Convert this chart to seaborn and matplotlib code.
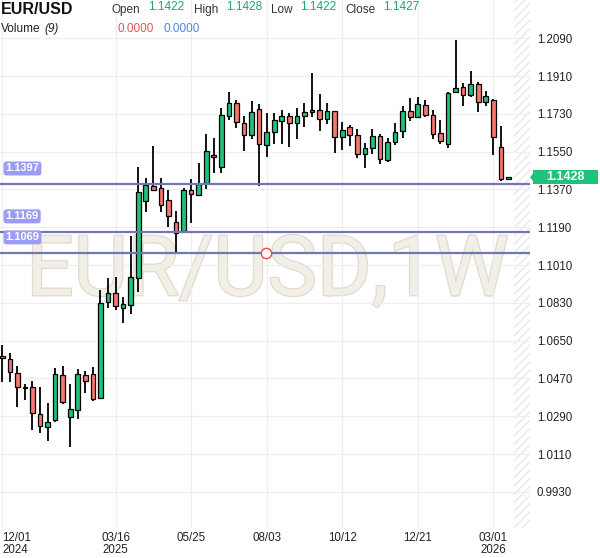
import numpy as np
import pandas as pd
import matplotlib
matplotlib.use("Agg")
import matplotlib.pyplot as plt
import matplotlib.transforms as mtrans
import matplotlib.patheffects as pe
from matplotlib.patches import Rectangle, Polygon
import seaborn as sns

# ---------------- data ----------------
start_date = "2024-12-01"
n_weeks = 68
opens = [1.0576, 1.0561, 1.0495, 1.0424, 1.0428, 1.0300, 1.0238, 1.0272, 1.0485, 1.0285,
         1.0320, 1.0487, 1.0490, 1.0379, 1.0833, 1.0876, 1.0807, 1.0819, 1.0947, 1.1314,
         1.1385, 1.1376, 1.1318, 1.1217, 1.1174, 1.1366, 1.1342, 1.1400, 1.1536, 1.1479,
         1.1721, 1.1780, 1.1685, 1.1628, 1.1752, 1.1580, 1.1642, 1.1694, 1.1719, 1.1685,
         1.1718, 1.1738, 1.1747, 1.1704, 1.1742, 1.1618, 1.1665, 1.1628, 1.1538, 1.1566,
         1.1624, 1.1512, 1.1595, 1.1647, 1.1742, 1.1714, 1.1771, 1.1723, 1.1638, 1.1584,
         1.1833, 1.1857, 1.1821, 1.1871, 1.1785, 1.1795, 1.1571, 1.1422]
highs = [1.0630, 1.0593, 1.0531, 1.0442, 1.0458, 1.0431, 1.0352, 1.0519, 1.0531, 1.0442,
         1.0514, 1.0506, 1.0526, 1.0891, 1.0947, 1.0955, 1.0857, 1.1149, 1.1476, 1.1423,
         1.1576, 1.1423, 1.1368, 1.1265, 1.1376, 1.1419, 1.1495, 1.1633, 1.1614, 1.1756,
         1.1833, 1.1796, 1.1720, 1.1789, 1.1776, 1.1733, 1.1733, 1.1749, 1.1733, 1.1757,
         1.1780, 1.1923, 1.1824, 1.1780, 1.1744, 1.1691, 1.1675, 1.1658, 1.1590, 1.1657,
         1.1633, 1.1614, 1.1685, 1.1766, 1.1804, 1.1810, 1.1796, 1.1748, 1.1699, 1.1836,
         1.2081, 1.1877, 1.1934, 1.1881, 1.1838, 1.1800, 1.1670, 1.1428]
lows = [1.0455, 1.0452, 1.0336, 1.0368, 1.0225, 1.0212, 1.0174, 1.0261, 1.0347, 1.0142,
        1.0276, 1.0402, 1.0363, 1.0376, 1.0804, 1.0796, 1.0733, 1.0776, 1.0880, 1.1264,
        1.1363, 1.1264, 1.1193, 1.1068, 1.1172, 1.1209, 1.1341, 1.1371, 1.1447, 1.1450,
        1.1701, 1.1661, 1.1555, 1.1610, 1.1387, 1.1526, 1.1585, 1.1584, 1.1574, 1.1609,
        1.1666, 1.1717, 1.1646, 1.1683, 1.1542, 1.1558, 1.1576, 1.1521, 1.1471, 1.1538,
        1.1489, 1.1502, 1.1583, 1.1614, 1.1696, 1.1709, 1.1715, 1.1612, 1.1584, 1.1569,
        1.1828, 1.1766, 1.1808, 1.1741, 1.1765, 1.1533, 1.1410, 1.1422]
closes = [1.0566, 1.0500, 1.0428, 1.0423, 1.0304, 1.0244, 1.0264, 1.0490, 1.0357, 1.0323,
          1.0490, 1.0458, 1.0371, 1.0828, 1.0876, 1.0815, 1.0823, 1.0952, 1.1360, 1.1393,
          1.1366, 1.1295, 1.1245, 1.1161, 1.1366, 1.1347, 1.1395, 1.1552, 1.1523, 1.1723,
          1.1780, 1.1689, 1.1627, 1.1741, 1.1585, 1.1642, 1.1700, 1.1719, 1.1685, 1.1719,
          1.1738, 1.1747, 1.1704, 1.1742, 1.1618, 1.1652, 1.1627, 1.1538, 1.1566, 1.1623,
          1.1514, 1.1595, 1.1642, 1.1742, 1.1713, 1.1776, 1.1723, 1.1636, 1.1599, 1.1829,
          1.1852, 1.1821, 1.1871, 1.1785, 1.1814, 1.1619, 1.1419, 1.1427]

level_prices = [1.1397, 1.1169, 1.1069]
level_labels = ["1.1397", "1.1169", "1.1069"]
alert_date = ["2025-08-02"]
alert_price = [1.1069]
last_price = 1.1428
last_label = "1.1428"

yticks = [0.9930, 1.0110, 1.0290, 1.0470, 1.0650, 1.0830, 1.1010,
          1.1190, 1.1370, 1.1550, 1.1730, 1.1910, 1.2090]
xtick_dates = ["2024-12-01", "2025-03-16", "2025-05-25", "2025-08-03",
               "2025-10-12", "2025-12-21", "2026-03-01"]
xtick_labels = ["12/01\n2024", "03/16\n2025", "05/25", "08/03",
                "10/12", "12/21", "03/01\n2026"]

header_vals = {"Open": "1.1422", "High": "1.1428", "Low": "1.1422", "Close": "1.1427"}
volume_vals = ["0.0000", "0.0000"]
watermark = "EUR/USD,1W"

# ---------------- style ----------------
sns.set_theme(style="white")
plt.rcParams["font.family"] = ["Liberation Sans", "DejaVu Sans"]

UP = "#1ec27b"
DOWN = "#f8766d"
LEVEL = "#7474b8"
LEVEL_BOX = "#9d9cf5"

df = pd.DataFrame({
    "date": pd.date_range(start_date, periods=n_weeks, freq="7D"),
    "open": opens, "high": highs, "low": lows, "close": closes,
})
df["up"] = df["close"] >= df["open"]
df["bottom"] = df[["open", "close"]].min(axis=1)
df["height"] = (df["close"] - df["open"]).abs().clip(lower=0.0004)

W, H = 600, 558
fig = plt.figure(figsize=(W / 100, H / 100), dpi=100)
ax = fig.add_axes([0, 30 / H, 530 / W, 528 / H])

t0 = pd.Timestamp(start_date)
week = pd.Timedelta(days=7)
ax.set_xlim(t0 - 0.30 * week, t0 + 69.85 * week)
ax.set_ylim(0.9758, 1.2272)

# watermark
ax.text(0.505, 0.441, watermark, transform=ax.transAxes, ha="center", va="baseline",
        fontsize=60, family=["Roboto", "Liberation Sans"],
        color="#f2efe6", zorder=0,
        path_effects=[pe.withStroke(linewidth=1.8, foreground="#e0dbcc")])

# future hatch
ax.axvspan(t0 + 67.7 * week, t0 + 69.85 * week, facecolor="none",
           edgecolor="#e8e8e8", hatch="////", linewidth=0, zorder=0.5)

# grid
ax.set_yticks(yticks)
ax.set_xticks(pd.to_datetime(xtick_dates))
ax.grid(True, color="#eeeeee", linewidth=0.9, zorder=0.2)
ax.set_axisbelow(True)

# candles
ax.vlines(df["date"], df["low"], df["high"], color="#000000", linewidth=1.3, zorder=2)
colors = [UP if u else DOWN for u in df["up"]]
ax.bar(df["date"], df["height"], bottom=df["bottom"], width=4.3, color=colors,
       edgecolor="#000000", linewidth=0.9, zorder=3)

# level lines
btf = mtrans.blended_transform_factory(ax.transAxes, ax.transData)
for p, lab in zip(level_prices, level_labels):
    ax.axhline(p, color=LEVEL, linewidth=1.6, zorder=4)
    ax.annotate(lab, xy=(0, p), xycoords=btf, xytext=(4, 11), textcoords="offset points",
                ha="left", va="center", fontsize=8, fontweight="bold", color="white",
                bbox=dict(boxstyle="round,pad=0.18,rounding_size=0.25", fc=LEVEL_BOX,
                          ec="none"), zorder=5)

# alert marker
alert_df = pd.DataFrame({"date": pd.to_datetime(alert_date), "price": alert_price})
sns.scatterplot(data=alert_df, x="date", y="price", ax=ax, s=55, marker="o",
                facecolor="white", edgecolor="#f04848", linewidth=1.0, zorder=6)
ax.set_xlabel("")
ax.set_ylabel("")

# axes ticks
ax.yaxis.tick_right()
ax.set_yticklabels([f"{v:.4f}" for v in yticks])
ax.tick_params(axis="y", length=0, pad=5, labelsize=8.3, labelcolor="#222222")
ax.set_xticklabels(xtick_labels)
ax.tick_params(axis="x", length=0, pad=3, labelsize=8.3, labelcolor="#222222")
for lbl in ax.get_xticklabels():
    lbl.set_linespacing(0.95)
ax.get_xticklabels()[0].set_horizontalalignment("left")
for s in ax.spines.values():
    s.set_visible(False)

# last price tag
ax.add_patch(Rectangle((1.006, last_price - 0.0034), 0.122, 0.0068, transform=btf,
                       facecolor=UP, edgecolor="none", clip_on=False, zorder=7))
ax.add_patch(Polygon([(1.0, last_price), (1.0075, last_price + 0.0024),
                      (1.0075, last_price - 0.0024)], closed=True, transform=btf,
                     facecolor=UP, edgecolor="none", clip_on=False, zorder=7))
ax.text(1.067, last_price, last_label, transform=btf, ha="center", va="center",
        fontsize=9, fontweight="bold", color="white", zorder=8, clip_on=False)

# header
def ftxt(x, y, s, **kw):
    fig.text(x / W, 1 - y / H, s, va="center", ha="left", **kw)

ftxt(1, 10, "EUR/USD", fontsize=11.5, fontweight="bold", color="#111111")
hx = {"Open": (112, 148), "High": (194, 226), "Low": (271, 300), "Close": (345, 383)}
for k, v in header_vals.items():
    lx, vx = hx[k]
    ftxt(lx, 10, k, fontsize=8.5, color="#333333")
    ftxt(vx, 7, v, fontsize=8.5, color="#1ba868")
ftxt(1, 29, "Volume", fontsize=8.5, color="#222222")
ftxt(44, 29, "(9)", fontsize=8.5, color="#222222", style="italic")
ftxt(118, 29, volume_vals[0], fontsize=8.5, color="#e05555")
ftxt(164, 29, volume_vals[1], fontsize=8.5, color="#4a86e8")

fig.savefig("out.png", dpi=100)
